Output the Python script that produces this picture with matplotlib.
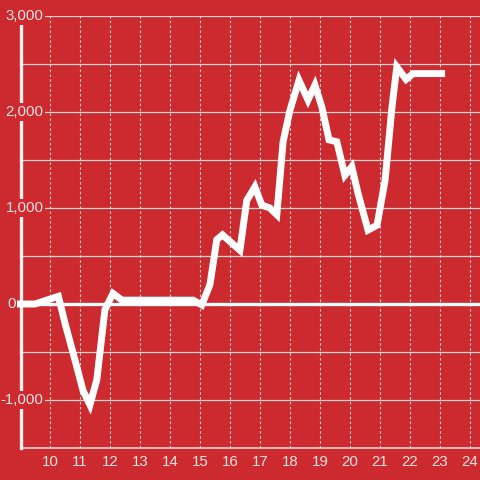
import matplotlib
matplotlib.use("Agg")
import matplotlib.pyplot as plt

hours = [8.9, 9.5, 10.28, 10.5, 10.83, 11.1, 11.33, 11.56, 11.83, 12.1, 12.4,
         14.77, 15.06, 15.33, 15.56, 15.75, 16.33, 16.56, 16.83, 17.06, 17.33,
         17.56, 17.77, 18.0, 18.3, 18.6, 18.83, 19.06, 19.3, 19.56, 19.83,
         20.06, 20.27, 20.6, 20.9, 21.17, 21.4, 21.56, 21.87, 22.1, 23.17]
values = [0, 0, 80, -200, -580, -900, -1050, -790, -60, 110, 40,
          40, -10, 200, 670, 720, 560, 1080, 1220, 1030, 1000,
          930, 1690, 2020, 2330, 2125, 2280, 2055, 1710, 1690, 1340,
          1430, 1150, 770, 820, 1290, 2055, 2470, 2340, 2400, 2400]

x_ticks = list(range(10, 25))
y_major = [3000, 2000, 1000, 0, -1000]
y_major_labels = ["3,000", "2,000", "1,000", "0", "-1,000"]
y_minor = [2500, 1500, 500, -500]

BG = "#cc2a2f"
GRID = "#d4d4d4"
TXT = "#f6e2e2"
W = 480.0

plt.rcParams['font.family'] = ['Liberation Sans', 'DejaVu Sans']

fig = plt.figure(figsize=(4.8, 4.8), dpi=100, facecolor=BG)
ax = fig.add_axes([21 / W, 32 / W, 459 / W, 432 / W])
ax.set_facecolor(BG)
ax.set_xlim(10 - 29 / 30, 10 + 430 / 30)
ax.set_ylim(-1500, 3000)

for s in ["top", "right"]:
    ax.spines[s].set_visible(False)
ax.spines["left"].set_color("#f7f0f0")
ax.spines["left"].set_linewidth(2.4)
ax.spines["left"].set_zorder(3)
ax.spines["bottom"].set_color(GRID)
ax.spines["bottom"].set_linewidth(1.2)

# gridlines
for v in y_major + y_minor:
    if v == 0:
        continue
    ax.axhline(v, color=GRID, lw=0.9, zorder=1)
for xt in x_ticks:
    ax.axvline(xt, color=GRID, lw=0.8, dashes=(2.2, 2.2), zorder=1)

# zero line
ax.plot([8.87, 24.4], [0, 0], color="white", lw=2.4, zorder=4, clip_on=False,
        solid_capstyle="butt")

# data line
ax.plot(hours, values, color="white", lw=5.0, zorder=5, clip_on=False,
        solid_capstyle="butt", solid_joinstyle="miter")

# x ticks
ax.set_xticks(x_ticks)
ax.set_xticklabels([str(t) for t in x_ticks], fontsize=10.8, color=TXT)
ax.tick_params(axis="x", length=0, pad=5)
ax.set_yticks([])

# y labels with background boxes
for v, lab in zip(y_major, y_major_labels):
    xpos = 9.78 if v != 0 else 8.85
    ax.text(xpos, v, lab, ha="right", va="center", fontsize=10.8, color=TXT,
            zorder=6, clip_on=False,
            bbox=dict(boxstyle="square,pad=0.12", fc=BG, ec="none"))

fig.savefig("out.png", dpi=100, facecolor=BG)
